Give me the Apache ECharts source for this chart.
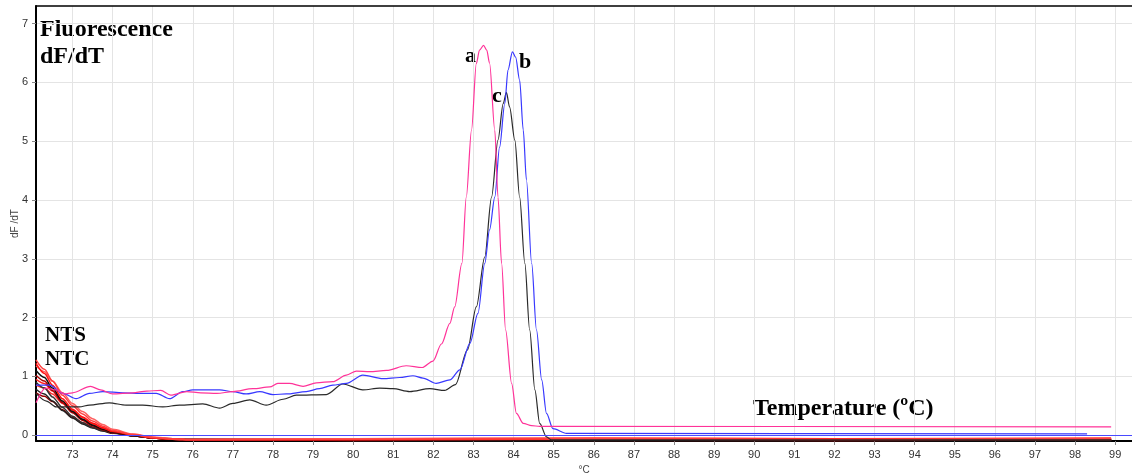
<!DOCTYPE html>
<html>
<head>
<meta charset="utf-8">
<script src="https://cdn.jsdelivr.net/npm/echarts@6/dist/echarts.min.js"></script>
<style>html,body{margin:0;padding:0;background:#fff;}#c{width:1132px;height:475px;}</style>
</head>
<body>
<div id="c"></div>
<script>
// ---- axis ticks ----
const xTicks = [73,74,75,76,77,78,79,80,81,82,83,84,85,86,87,88,89,90,91,92,93,94,95,96,97,98,99];
const yTicks = [0,1,2,3,4,5,6,7];

// ---- curve a (pink) ----
const aX = [72.09,72.33,72.6,72.8,73.0,73.45,73.7,74.0,74.5,74.85,75.2,75.45,75.85,76.2,76.6,77.0,77.5,77.92,78.12,78.41,78.75,79.08,79.49,79.83,80.08,80.41,80.83,81.32,81.72,81.99,82.2,82.41,82.53,82.71,82.82,82.95,83.07,83.15,83.25,83.33,83.40,83.53,83.61,83.70,83.80,83.95,84.07,84.24,84.45,84.65,98.9];
const aY = [0.55,0.80,0.77,0.70,0.72,0.83,0.77,0.70,0.72,0.75,0.76,0.68,0.74,0.72,0.71,0.74,0.79,0.82,0.88,0.88,0.83,0.89,0.91,1.02,1.09,1.08,1.10,1.18,1.15,1.26,1.55,1.90,2.18,2.92,4.05,5.19,6.32,6.55,6.63,6.55,6.33,5.19,4.05,2.92,1.79,0.88,0.37,0.20,0.16,0.15,0.14];

// ---- curve b (blue) ----
const bX = [72.09,72.43,72.76,73.09,73.42,73.76,74.26,74.67,75.09,75.42,75.75,76.0,76.42,76.67,77.0,77.33,77.67,78.0,78.33,78.83,79.16,79.49,79.83,80.24,80.74,81.16,81.49,81.74,82.07,82.41,82.66,82.91,83.11,83.28,83.40,83.53,83.65,83.78,83.86,83.97,84.05,84.15,84.24,84.32,84.45,84.57,84.70,84.82,84.98,85.32,98.3];
const bY = [0.85,0.85,0.71,0.62,0.71,0.74,0.72,0.71,0.71,0.62,0.74,0.77,0.77,0.77,0.74,0.70,0.74,0.69,0.70,0.74,0.79,0.85,0.88,1.02,0.96,0.98,1.01,0.97,0.88,0.94,1.11,1.56,2.07,2.92,3.49,4.05,4.90,5.64,6.21,6.52,6.43,6.04,5.19,4.34,2.92,1.79,0.94,0.37,0.11,0.03,0.02];

// ---- curve c (black) ----
const cX = [72.09,72.35,72.59,73.17,73.42,73.92,74.34,74.75,75.25,75.67,76.25,76.67,77.0,77.42,77.83,78.25,78.58,79.33,79.74,80.24,80.66,80.99,81.41,81.91,82.28,82.55,82.85,83.07,83.28,83.45,83.61,83.74,83.82,83.90,84.03,84.15,84.28,84.40,84.53,84.65,84.82,84.94,98.9];
const cY = [0.71,0.58,0.48,0.48,0.51,0.55,0.51,0.51,0.48,0.51,0.53,0.46,0.54,0.60,0.51,0.61,0.68,0.69,0.87,0.77,0.80,0.79,0.74,0.79,0.76,0.86,1.45,2.18,3.03,4.05,5.02,5.64,5.83,5.58,5.02,4.05,2.92,1.79,0.77,0.20,-0.03,-0.08,-0.08];

// ---- NTC / NTS curves ----
const nX = [72.09,72.3,72.5,72.75,73.0,73.25,73.5,73.75,74.0,74.5,75.0,75.5,76.0,80.0,86.0,92.0,98.9];
const n1 = [1.28,1.12,0.92,0.68,0.50,0.36,0.24,0.15,0.08,0.01,-0.04,-0.07,-0.08,-0.07,-0.06,-0.07,-0.06];
const n2 = [1.22,1.05,0.85,0.62,0.44,0.31,0.20,0.12,0.06,0.00,-0.05,-0.07,-0.08,-0.08,-0.07,-0.06,-0.07];
const n3 = [1.10,0.98,0.80,0.58,0.40,0.27,0.17,0.10,0.05,-0.01,-0.05,-0.07,-0.07,-0.08,-0.09,-0.08,-0.08];
const n4 = [1.02,0.92,0.76,0.55,0.38,0.25,0.16,0.09,0.04,-0.01,-0.05,-0.07,-0.08,-0.09,-0.08,-0.09,-0.08];
const n5 = [0.95,0.88,0.75,0.57,0.42,0.30,0.20,0.13,0.07,0.01,-0.04,-0.06,-0.07,-0.06,-0.05,-0.06,-0.05];
const n6 = [0.90,0.80,0.65,0.47,0.32,0.21,0.13,0.08,0.04,-0.01,-0.05,-0.07,-0.08,-0.09,-0.09,-0.09,-0.09];
const n7 = [0.85,0.80,0.70,0.54,0.39,0.27,0.18,0.11,0.06,0.00,-0.05,-0.07,-0.08,-0.08,-0.08,-0.07,-0.08];
const n8 = [0.78,0.70,0.58,0.42,0.29,0.19,0.12,0.07,0.03,-0.01,-0.05,-0.06,-0.07,-0.09,-0.09,-0.08,-0.09];
const n9 = [0.72,0.66,0.57,0.43,0.30,0.21,0.14,0.08,0.04,-0.01,-0.05,-0.07,-0.08,-0.08,-0.09,-0.09,-0.08];
const n10 = [1.18,1.08,0.92,0.72,0.54,0.40,0.28,0.18,0.10,0.02,-0.03,-0.06,-0.07,-0.06,-0.07,-0.07,-0.06];

const X_MIN = 72.09, X_MAX = 99.42, Y_MIN = -0.1, Y_MAX = 7.3;

function pairs(xs, ys){ return xs.map((x,i)=>[x, ys[i]]); }

const chart = echarts.init(document.getElementById('c'), null, {renderer:'canvas'});

function curve(name, xs, ys, color, width, z){
  return {
    name, type:'line', data: pairs(xs, ys), showSymbol:false, symbol:'none',
    smooth:0.3, smoothMonotone:'x', z: z || 2,
    lineStyle:{color, width: width || 1.2}, silent:true, animation:false
  };
}

const ntcSeries = [
  [n9,'#990000'],[n8,'#222222'],[n7,'#ff3030'],[n6,'#333333'],[n5,'#ff2020'],
  [n4,'#aa0000'],[n3,'#111111'],[n10,'#ff6060'],[n2,'#ff1010'],[n1,'#ff4040']
].map((p,i)=>curve('ntc'+i, nX, p[0], p[1], 1.5, 1));

const font = 'Liberation Sans, Arial, sans-serif';
const serif = 'Liberation Serif, Times New Roman, serif';

chart.setOption({
  animation:false,
  backgroundColor:'#ffffff',
  grid:{left:36, right:0, top:6, bottom:34, containLabel:false, outerBoundsMode:'none'},
  xAxis:[{
    type:'value', min:X_MIN, max:X_MAX,
    name:'°C', nameLocation:'middle', nameGap:21,
    nameTextStyle:{fontSize:10, color:'#444', fontFamily:font},
    axisLine:{show:true, onZero:false, lineStyle:{color:'#000', width:2}},
    axisTick:{show:true, length:4, customValues:xTicks, lineStyle:{color:'#888'}},
    axisLabel:{customValues:xTicks, fontSize:11, color:'#333', fontFamily:font, margin:8},
    splitLine:{show:true, customValues:xTicks, lineStyle:{color:'#e4e4e4', width:1}}
  },{
    type:'value', position:'top', min:X_MIN, max:X_MAX,
    axisLine:{show:true, onZero:false, lineStyle:{color:'#000', width:1.5}},
    axisTick:{show:false}, axisLabel:{show:false}, splitLine:{show:false}
  }],
  yAxis:{
    type:'value', min:Y_MIN, max:Y_MAX,
    name:'dF /dT', nameLocation:'middle', nameGap:16, nameMoveOverlap:false,
    nameTextStyle:{fontSize:10, color:'#444', fontFamily:font},
    axisLine:{show:true, onZero:false, lineStyle:{color:'#000', width:2}},
    axisTick:{show:true, length:4, customValues:yTicks, lineStyle:{color:'#888'}},
    axisLabel:{customValues:yTicks, fontSize:11, color:'#333', fontFamily:font, margin:8},
    splitLine:{show:true, customValues:yTicks, lineStyle:{color:'#e4e4e4', width:1}}
  },
  series: ntcSeries.concat([
    curve('c', cX, cY, '#2a2a2a', 1.2, 3),
    Object.assign(curve('b', bX, bY, '#3838ff', 1.2, 4), {
      markLine:{silent:true, symbol:'none', label:{show:false},
        lineStyle:{color:'#4a4aff', width:1.2, type:'solid'}, data:[{yAxis:0}]}
    }),
    curve('a', aX, aY, '#ff3399', 1.2, 5)
  ]),
  graphic:[
    {type:'text', left:40, top:18, style:{text:'Fluorescence', font:'bold 24px '+serif, fill:'#000'}},
    {type:'text', left:40, top:45, style:{text:'dF/dT', font:'bold 24px '+serif, fill:'#000'}},
    {type:'text', left:45, top:325, style:{text:'NTS', font:'bold 21px '+serif, fill:'#000'}},
    {type:'text', left:45, top:349, style:{text:'NTC', font:'bold 21px '+serif, fill:'#000'}},
    {type:'text', left:465, top:45, style:{text:'a', font:'bold 22px '+serif, fill:'#000'}},
    {type:'text', left:519, top:51, style:{text:'b', font:'bold 22px '+serif, fill:'#000'}},
    {type:'text', left:492, top:85, style:{text:'c', font:'bold 22px '+serif, fill:'#000'}},
    {type:'text', left:753, top:397, style:{text:'Temperature (ºC)', font:'bold 24px '+serif, fill:'#000'}}
  ]
});
</script>
</body>
</html>
